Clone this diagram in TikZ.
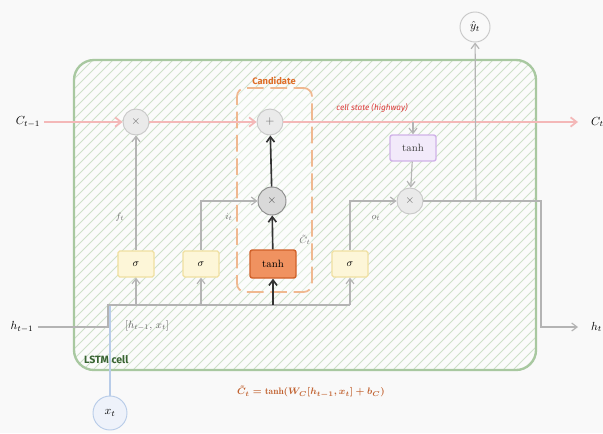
\documentclass[tikz,border=0pt]{standalone}
\usepackage{fontspec}
\usepackage{amsmath}
\usetikzlibrary{arrows.meta}
\newfontfamily\handfont{Fira Sans}
\definecolor{bgcol}{RGB}{249,249,249}
\definecolor{cellgreen}{RGB}{168,200,160}
\definecolor{hatchgreen}{RGB}{206,225,201}
\definecolor{labelgreen}{RGB}{56,100,50}
\definecolor{statepink}{RGB}{244,184,184}
\definecolor{statered}{RGB}{222,60,60}
\definecolor{opgray}{RGB}{200,200,200}
\definecolor{opfill}{RGB}{234,234,234}
\definecolor{wiregray}{RGB}{180,180,180}
\definecolor{candorange}{RGB}{240,184,144}
\definecolor{candtext}{RGB}{222,110,40}
\definecolor{tanhfill}{RGB}{240,146,96}
\definecolor{tanhdraw}{RGB}{208,96,40}
\definecolor{sigfill}{RGB}{253,246,216}
\definecolor{sigdraw}{RGB}{240,224,160}
\definecolor{purfill}{RGB}{242,234,250}
\definecolor{purdraw}{RGB}{208,178,232}
\definecolor{inblue}{RGB}{184,204,232}
\definecolor{infill}{RGB}{238,242,250}
\definecolor{formcol}{RGB}{193,98,48}

\begin{document}
\begin{tikzpicture}[
    x=0.3mm, y=-0.3mm,
    op_node/.style={circle, draw=opgray, fill=opfill, line width=0.8pt, minimum size=7.8mm, inner sep=0pt, text=black!60},
    sigma_node/.style={rectangle, rounded corners=1.5pt, draw=sigdraw, fill=sigfill, line width=1pt, minimum width=10.8mm, minimum height=7.8mm, inner sep=0pt, font=\small},
    io_node/.style={circle, draw=opgray, fill=bgcol, line width=0.8pt, minimum size=9mm, inner sep=0pt},
    wire/.style={draw=wiregray, line width=1pt},
    gray_arrow/.style={-{Straight Barb[length=1.6mm,width=2.4mm]}, draw=wiregray, line width=1pt},
    state_arrow/.style={-{Straight Barb[length=1.8mm,width=2.8mm]}, draw=statepink, line width=1.5pt},
    black_arrow/.style={-{Straight Barb[length=1.6mm,width=2.4mm]}, draw=black!80, line width=1.4pt},
    gate_label/.style={text=black!55, font=\footnotesize}
]
    % page and cell box
    \fill[bgcol] (0,0) rectangle (603,433);
    \useasboundingbox (0,0) rectangle (603,433);
    \begin{scope}
        \clip[rounded corners=6mm] (74,60) rectangle (536,370);
        \fill[white, fill opacity=0.35] (74,60) rectangle (536,370);
        \foreach \k in {-440,-430,...,540}
            \draw[hatchgreen, line width=0.7pt] (\k,433) -- (\k+433,0);
    \end{scope}
    \draw[cellgreen, line width=2pt, rounded corners=6mm] (74,60) rectangle (536,370);
    \node[anchor=west, text=labelgreen, font=\handfont\small\bfseries] (celllabel) at (80,360) {LSTM cell};

    % candidate box
    \node[draw=candorange, fill=white, fill opacity=0.3, text opacity=1, dash pattern=on 5mm off 2mm, dash phase=2mm, line width=1.5pt, rounded corners=2.5mm, minimum width=22.5mm, minimum height=61.2mm] (cand) at (274.5,190) {};
    \node[text=candtext, font=\handfont\footnotesize\bfseries] (candlabel) at (274,81) {Candidate};

    % nodes
    \node (Cprev) at (28,122) {$C_{t-1}$};
    \node[anchor=west] (Cnext) at (587,122) {$C_t$};
    \node (hprev) at (22,327) {$h_{t-1}$};
    \node[anchor=west] (hnext) at (587,327) {$h_t$};
    \node[op_node] (fmul) at (136,122) {$\times$};
    \node[op_node] (add) at (270,122) {$+$};
    \node[op_node, fill=black!15, draw=black!45, minimum size=8.4mm, text=black!70] (imul) at (272,201) {$\times$};
    \node[op_node] (omul) at (410,201) {$\times$};
    \node[sigma_node] (sf) at (136,264) {$\sigma$};
    \node[sigma_node] (si) at (201,264) {$\sigma$};
    \node[sigma_node] (so) at (350,264) {$\sigma$};
    \node[rectangle, rounded corners=2pt, draw=tanhdraw, fill=tanhfill, line width=1.2pt, minimum width=13.8mm, minimum height=8.4mm, font=\small] (tc) at (273,264) {tanh};
    \node[rectangle, rounded corners=2pt, draw=purdraw, fill=purfill, line width=1.2pt, minimum width=13.8mm, minimum height=7.8mm, font=\small, text=black!75] (th) at (413,148) {tanh};
    \node[io_node] (yhat) at (475,27) {$\hat{y}_t$};
    \node[io_node, draw=inblue, fill=infill, minimum size=10.2mm] (xt) at (110,413) {$x_t$};

    % labels
    \node[gate_label] (flab) at (120,217) {$f_t$};
    \node[gate_label] (ilab) at (229,217) {$i_t$};
    \node[gate_label] (olab) at (376,218) {$o_t$};
    \node[gate_label] (clab) at (305,240) {$\tilde{C}_t$};
    \node[text=black!60, font=\small] (concat) at (147,326) {$[h_{t-1},\, x_t]$};
    \node[text=statered, font=\handfont\scriptsize\itshape] (statelab) at (372,108) {cell state (highway)};
    \node[text=formcol, font=\footnotesize\boldmath] (formula) at (311,392) {$\tilde{C}_t = \tanh(W_C[h_{t-1}, x_t] + b_C)$};

    % junctions
    \coordinate (hj) at (108,327);
    \coordinate (bs) at (108,305);
    \coordinate (be) at (350,305);
    \coordinate (xj) at (110,305);
    \coordinate (tap) at (413,122);
    \coordinate (oc) at (541,201);
    \coordinate (ysplit) at (476,201);

    % cell state
    \draw [state_arrow] (Cprev) -- (fmul);
    \draw [state_arrow] (fmul) -- (add);
    \draw [state_arrow, shorten >=2.7mm] (add) -- (Cnext.west);

    % input bus
    \draw [draw=inblue, line width=1pt] (xt) -- (xj);
    \draw [wire] (hprev.east) -- (hj) -- (bs) -- (be);
    \draw [gray_arrow] (sf |- bs) -- (sf);
    \draw [gray_arrow] (si |- bs) -- (si);
    \draw [gray_arrow] (be) -- (so);
    \draw [black_arrow] (tc |- bs) -- (tc);

    % gates
    \draw [gray_arrow] (sf) -- (fmul);
    \draw [gray_arrow] (si.north) |- (imul.west);
    \draw [gray_arrow] (so.north) |- (omul.west);
    \draw [black_arrow] (tc) -- (imul);
    \draw [black_arrow] (imul) -- (add);
    \draw [gray_arrow] (tap) -- (th);
    \draw [gray_arrow] (th) -- (omul);

    % outputs
    \draw [gray_arrow, shorten >=2.7mm] (omul.east) -- (oc) |- (hnext.west);
    \draw [gray_arrow] (ysplit) -- (yhat);
\end{tikzpicture}
\end{document}
